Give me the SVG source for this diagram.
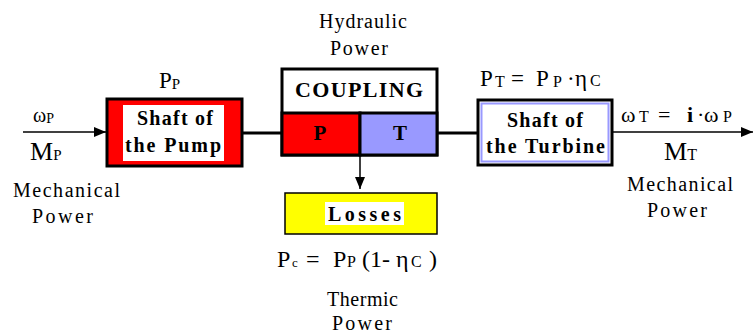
<svg xmlns="http://www.w3.org/2000/svg" width="753" height="336" viewBox="0 0 753 336">
<defs>
<style>
.box{stroke:#000;stroke-width:3}
.thin{stroke:#000;stroke-width:1.5;fill:none}
.thick{stroke:#000;stroke-width:3;fill:none}
</style>
<marker id="ah" markerUnits="userSpaceOnUse" markerWidth="12" markerHeight="10" refX="12" refY="5" orient="auto">
<path d="M0,0 L12,5 L0,10 z" fill="#000"/>
</marker>
</defs>
<rect width="753" height="336" fill="#fff"/>

<g id="connectors">
<line class="thin" x1="23" y1="132" x2="106" y2="132" marker-end="url(#ah)"/>
<line class="thick" x1="242" y1="133" x2="282" y2="133"/>
<line class="thick" x1="437" y1="133" x2="478" y2="133"/>
<line class="thin" x1="360" y1="155" x2="360" y2="189" marker-end="url(#ah)"/>
<line class="thin" x1="612" y1="132" x2="753" y2="132" marker-end="url(#ah)"/>
</g>

<g id="input" font-family="Liberation Serif">
<text x="33" y="122" font-size="20">&#969;<tspan font-size="14" dy="1">P</tspan></text>
<text x="30" y="160" font-size="26">M<tspan font-size="15">P</tspan></text>
<text font-size="20" x="13" y="197" textLength="107" lengthAdjust="spacing">Mechanical</text>
<text font-size="20" x="32" y="223" textLength="61" lengthAdjust="spacing">Power</text>
</g>

<g id="pump" font-family="Liberation Serif">
<rect class="box" x="107" y="99" width="135" height="67" fill="#ff0000"/>
<rect x="123" y="105" width="101" height="56" fill="#fff"/>
<text font-weight="bold" x="137" y="125" font-size="20" textLength="76" lengthAdjust="spacing">Shaft of</text>
<text font-weight="bold" x="125" y="152" font-size="20" textLength="96" lengthAdjust="spacing">the Pump</text>
<text x="159" y="88" font-size="23">P<tspan font-size="15" dy="1">P</tspan></text>
</g>

<g id="coupling" font-family="Liberation Serif">
<rect class="box" x="282" y="69" width="155" height="86" fill="#fff"/>
<rect class="box" x="282" y="113" width="78" height="42" fill="#ff0000"/>
<rect class="box" x="360" y="113" width="77" height="42" fill="#9999ff"/>
<text font-weight="bold" x="295" y="97" font-size="22" textLength="128" lengthAdjust="spacing">COUPLING</text>
<text font-weight="bold" x="320" y="140" font-size="21" text-anchor="middle">P</text>
<text font-weight="bold" x="400" y="140" font-size="21" text-anchor="middle">T</text>
<text font-size="20" x="319" y="28" textLength="88" lengthAdjust="spacing">Hydraulic</text>
<text font-size="20" x="330" y="55" textLength="58" lengthAdjust="spacing">Power</text>
</g>

<g id="losses" font-family="Liberation Serif">
<rect x="285" y="193" width="152" height="41" fill="#ffff00" stroke="#000" stroke-width="1.5"/>
<rect x="325" y="202" width="79" height="23" fill="#fff"/>
<text font-weight="bold" x="328" y="221" font-size="20" textLength="73" lengthAdjust="spacing">Losses</text>
<text y="267" font-size="24"><tspan x="277">P</tspan><tspan x="292" font-size="13">c</tspan><tspan x="306">=</tspan><tspan x="333">P</tspan><tspan x="347" font-size="16">P</tspan><tspan x="362">(1-</tspan><tspan x="396">&#951;</tspan><tspan x="411" font-size="16">C</tspan><tspan x="429">)</tspan></text>
<text font-size="20" x="327" y="306" textLength="71" lengthAdjust="spacing">Thermic</text>
<text font-size="20" x="332" y="330" textLength="60" lengthAdjust="spacing">Power</text>
</g>

<g id="turbine" font-family="Liberation Serif">
<rect class="box" x="478" y="100" width="134" height="65" fill="#fff"/>
<rect x="481.5" y="103.5" width="127" height="58" fill="#fff" stroke="#9999ff" stroke-width="2"/>
<text font-weight="bold" x="507" y="127" font-size="20" textLength="76" lengthAdjust="spacing">Shaft of</text>
<text font-weight="bold" x="486" y="153" font-size="20" textLength="119" lengthAdjust="spacing">the Turbine</text>
<text y="86" font-size="23"><tspan x="480">P</tspan><tspan x="495" font-size="16" dy="1">T</tspan><tspan x="511" dy="-1">=</tspan><tspan x="536">P</tspan><tspan x="553" font-size="16" dy="1">P</tspan><tspan x="567" dy="-1">&#183;</tspan><tspan x="575">&#951;</tspan><tspan x="590" font-size="16">C</tspan></text>
</g>

<g id="output" font-family="Liberation Serif">
<text y="122" font-size="22"><tspan x="621">&#969;</tspan><tspan x="639" font-size="16">T</tspan><tspan x="658">=</tspan><tspan x="687" font-weight="bold">i</tspan><tspan x="697">&#183;</tspan><tspan x="704">&#969;</tspan><tspan x="723" font-size="16">P</tspan></text>
<text x="664" y="160" font-size="26">M<tspan font-size="16">T</tspan></text>
<text font-size="20" x="627" y="191" textLength="106" lengthAdjust="spacing">Mechanical</text>
<text font-size="20" x="647" y="217" textLength="60" lengthAdjust="spacing">Power</text>
</g>
</svg>
